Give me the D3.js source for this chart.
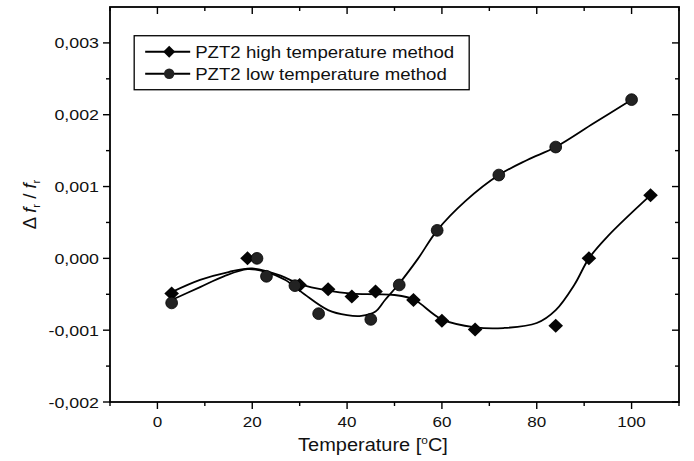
<!DOCTYPE html>
<html>
<head>
<meta charset="utf-8">
<script src="https://cdn.jsdelivr.net/npm/d3@7"></script>
<style>
  body { margin: 0; background: #fff; }
  svg { display: block; font-family: Arial, "Liberation Sans", sans-serif; }
</style>
</head>
<body>
<svg id="chart" width="694" height="461"></svg>
<script>
const highT = [3, 19, 30, 36, 41, 46, 54, 60, 67, 84, 91, 104];
const highV = [-0.00049, 0.0, -0.00037, -0.00043, -0.00053, -0.00046, -0.00058, -0.00087, -0.00099, -0.00094, 0.0, 0.00088];
const lowT = [3, 21, 23, 29, 34, 45, 51, 59, 72, 84, 100];
const lowV = [-0.00062, 0.0, -0.00025, -0.00038, -0.00077, -0.00085, -0.00037, 0.00039, 0.00116, 0.00155, 0.00221];

// fitted curves as drawn in the figure
const highFitT = [3, 9, 15, 20, 26, 30, 36, 41, 46, 50, 54, 60, 67, 73, 80, 84, 88, 91, 95, 104];
const highFitV = [-0.00047, -0.00030, -0.00019, -0.00014, -0.00024, -0.00036, -0.00045, -0.00049, -0.00050, -0.00051, -0.00057, -0.00085, -0.00096, -0.00097, -0.00090, -0.00072, -0.00036, 0.0, 0.00031, 0.00088];
const lowFitT = [3, 9, 14, 19, 23, 27, 31, 36, 40, 43, 46, 48, 51, 55, 59, 65, 72, 78, 84, 92, 100];
const lowFitV = [-0.00058, -0.00040, -0.00025, -0.00015, -0.00019, -0.00030, -0.00050, -0.00072, -0.00079, -0.00080, -0.00074, -0.00058, -0.00035, 0.0, 0.00039, 0.00080, 0.00116, 0.00137, 0.00155, 0.00188, 0.00221];

const xTicks = [0, 20, 40, 60, 80, 100];
const yTicks = [-0.002, -0.001, 0, 0.001, 0.002, 0.003];
const seriesNames = ['PZT2 high temperature method', 'PZT2 low temperature method'];

const svg = d3.select('#chart');
const W = 694, H = 461;
const m = { t: 7, r: 15, b: 59, l: 110 };
const innerW = W - m.l - m.r, innerH = H - m.t - m.b;

const x = d3.scaleLinear().domain([-10, 110]).range([0, innerW]);
const y = d3.scaleLinear().domain([-0.002, 0.0035]).range([innerH, 0]);
const g = svg.append('g').attr('transform', `translate(${m.l},${m.t})`);

const fmtY = d => d3.format('.3f')(d).replace('.', ',').replace('−', '-');
const minorX = d3.range(-10, 111, 10).filter(v => !xTicks.includes(v));
const minorY = d3.range(-0.0015, 0.0035, 0.001);

// the source figure's lettering is a bit wider than Arial
function stretch(sel, px, py, sx) {
  sel.attr('transform', `translate(${px},${py}) scale(${sx},1)`);
}

function tickLines(axis, vals, len) {
  const sel = g.append('g').attr('stroke', '#000').attr('stroke-width', 1.4);
  vals.forEach(v => {
    if (axis === 'bottom') sel.append('line').attr('x1', x(v)).attr('x2', x(v)).attr('y1', innerH).attr('y2', innerH + len);
    if (axis === 'top') sel.append('line').attr('x1', x(v)).attr('x2', x(v)).attr('y1', 0).attr('y2', len);
    if (axis === 'left') sel.append('line').attr('x1', -len).attr('x2', 0).attr('y1', y(v)).attr('y2', y(v));
    if (axis === 'right') sel.append('line').attr('x1', innerW - len).attr('x2', innerW).attr('y1', y(v)).attr('y2', y(v));
  });
}
tickLines('bottom', xTicks, 7); tickLines('bottom', minorX, 4);
tickLines('top', xTicks, 7); tickLines('top', minorX, 4);
tickLines('left', yTicks, 7); tickLines('left', minorY, 4);
tickLines('right', yTicks, 7); tickLines('right', minorY, 4);

// frame
g.append('rect').attr('width', innerW).attr('height', innerH)
  .attr('fill', 'none').attr('stroke', '#000').attr('stroke-width', 1.8);

// tick labels
g.append('g').selectAll('text').data(xTicks).join('text')
  .attr('text-anchor', 'middle').attr('font-size', 15.5).attr('fill', '#111')
  .each(function(d) { stretch(d3.select(this), x(d), innerH + 25, 1.1); })
  .text(d => d);
g.append('g').selectAll('text').data(yTicks).join('text')
  .attr('text-anchor', 'end').attr('font-size', 15.5).attr('fill', '#111')
  .each(function(d) { stretch(d3.select(this), -11, y(d) + 5.5, 1.15); })
  .text(fmtY);

// axis titles
const xl = svg.append('text').attr('text-anchor', 'middle').attr('font-size', 18.5).attr('fill', '#111')
  .html('Temperature [<tspan dy="-7" font-size="11">o</tspan><tspan dy="7">C]</tspan>');
stretch(xl, 373, 451, 1.08);
const yl = svg.append('text')
  .attr('transform', `translate(36,${m.t + innerH / 2}) rotate(-90)`)
  .attr('text-anchor', 'middle').attr('font-size', 18.5).attr('fill', '#111');
yl.append('tspan').text('Δ ');
yl.append('tspan').attr('font-style', 'italic').text('f');
yl.append('tspan').attr('font-size', 11).attr('dy', 4).text('r');
yl.append('tspan').attr('dy', -4).text(' / ');
yl.append('tspan').attr('font-style', 'italic').text('f');
yl.append('tspan').attr('font-size', 11).attr('dy', 4).text('r');

// fitted lines
const line = d3.line().x(d => x(d[0])).y(d => y(d[1])).curve(d3.curveCatmullRom.alpha(0.5));
[[highFitT, highFitV], [lowFitT, lowFitV]].forEach(([ts, vs]) => {
  g.append('path').datum(ts.map((t, i) => [t, vs[i]]))
    .attr('fill', 'none').attr('stroke', '#000').attr('stroke-width', 1.8)
    .attr('d', line);
});

// markers
const diamond = (w, h) => `M0,${-h}L${w},0L0,${h}L${-w},0Z`;
g.append('g').selectAll('path').data(highT.map((t, i) => [t, highV[i]])).join('path')
  .attr('d', diamond(7.3, 7)).attr('transform', d => `translate(${x(d[0])},${y(d[1])})`)
  .attr('fill', '#050505');
g.append('g').selectAll('circle').data(lowT.map((t, i) => [t, lowV[i]])).join('circle')
  .attr('cx', d => x(d[0])).attr('cy', d => y(d[1])).attr('r', 5.9)
  .attr('fill', '#222').attr('stroke', '#000').attr('stroke-width', 0.8);

// legend
const lg = g.append('g').attr('transform', `translate(${x(-4.9)},${y(0.0031)})`);
lg.append('rect').attr('width', 335).attr('height', 54)
  .attr('fill', '#fff').attr('stroke', '#000').attr('stroke-width', 1.3);
seriesNames.forEach((name, i) => {
  const ry = 16 + i * 22;
  lg.append('line').attr('x1', 11).attr('x2', 56).attr('y1', ry).attr('y2', ry)
    .attr('stroke', '#000').attr('stroke-width', 1.8);
  if (i === 0) lg.append('path').attr('d', diamond(6, 6)).attr('transform', `translate(35,${ry})`).attr('fill', '#050505');
  else lg.append('circle').attr('cx', 35).attr('cy', ry).attr('r', 5.2).attr('fill', '#222');
  const t = lg.append('text').attr('font-size', 16.5).attr('fill', '#111').text(name);
  stretch(t, 61, ry + 6, 1.13);
});
</script>
</body>
</html>
